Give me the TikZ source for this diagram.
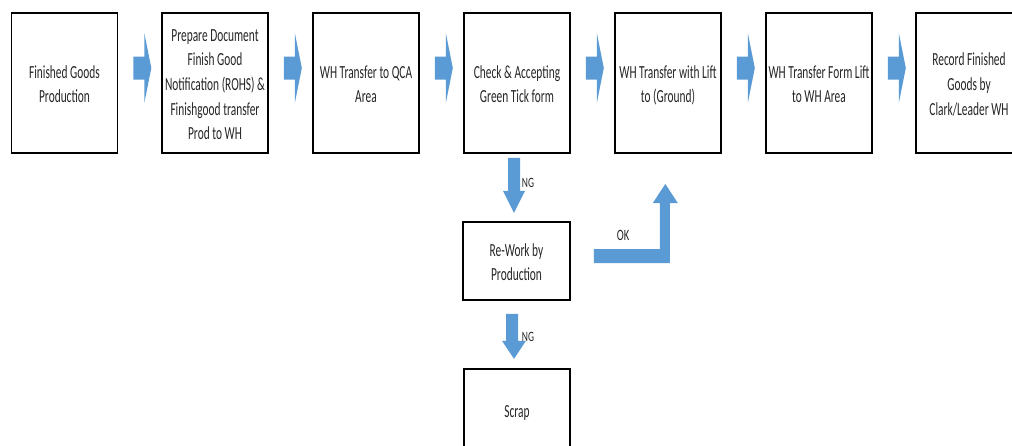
\documentclass[tikz,border=0pt]{standalone}
\usepackage{fontspec}
\usepackage{graphicx}
\setmainfont{Carlito}
\usetikzlibrary{calc}
\definecolor{arrblue}{HTML}{5B9BD5}
\definecolor{txt}{HTML}{262626}
\newsavebox\vtbox
\newcommand\vt[1]{\sbox\vtbox{\scalebox{1}[1.62]{\begin{tabular}{@{}c@{}}#1\end{tabular}}}\raisebox{-2.5pt}[\ht\vtbox][\dp\vtbox]{\usebox\vtbox}}
\tikzset{
  flowbox/.style={draw=black, line width=1.6pt, fill=white, inner sep=0pt,
    minimum width=106pt, minimum height=140pt, text=txt,
    font=\fontsize{11.4}{15.2}\selectfont},
  blockarrow/.style={fill=arrblue, draw=none},
  lbl/.style={text=txt, inner sep=0pt}
}
\begin{document}
\begin{tikzpicture}[x=1pt,y=-1pt]
\useasboundingbox (0,0) rectangle (1012,445);
% top row
\node[flowbox] (b1) at (64.5,83) {\vt{Finished Goods\\Production}};
\node[flowbox] (b2) at (215,83) {\vt{Prepare Document\\Finish Good\\Notification (ROHS) \&\\Finishgood transfer\\Prod to WH}};
\node[flowbox] (b3) at (366,83) {\vt{WH Transfer to QCA\\Area}};
\node[flowbox] (b4) at (517,83) {\vt{Check \& Accepting\\Green Tick form}};
\node[flowbox] (b5) at (668,83) {\vt{WH Transfer with Lift\\to (Ground)}};
\node[flowbox] (b6) at (819,83) {\vt{WH Transfer Form Lift\\to WH Area}};
\node[flowbox] (b7) at (969,83) {\vt{Record Finished\\Goods by\\Clark/Leader WH}};
% lower boxes
\node[flowbox, minimum width=107pt, minimum height=78pt] (rw) at (516.5,261) {\vt{Re-Work by\\Production}};
\node[flowbox, minimum height=82pt] (sc) at (517,410) {\vt{Scrap}};
% horizontal block arrows
\foreach \a/\b in {b1/b2,b2/b3,b3/b4,b4/b5,b5/b6,b6/b7}{
  \fill[blockarrow, shift={(\a.east)}] (15,-26.5) -- (26,-26.5) -- (26,-50) -- (33,-15)
     -- (26,20) -- (26,-3.5) -- (15,-3.5) -- cycle;
}
% NG arrow 1 : b4 -> rw
\fill[blockarrow, shift={(b4.south)}] (-9,4) -- (3,4) -- (3,37) -- (8,37) -- (-3,59)
   -- (-14,37) -- (-9,37) -- cycle;
\node[lbl, font=\fontsize{9.5}{11}\selectfont] (ng1) at (528,183) {\scalebox{1}[1.5]{NG}};
% NG arrow 2 : rw -> sc
\fill[blockarrow, shift={(rw.south)}] (-10.5,13) -- (1.5,13) -- (1.5,40) -- (9.5,40) -- (-2.5,58)
   -- (-14.5,40) -- (-10.5,40) -- cycle;
\node[lbl, font=\fontsize{9.5}{11}\selectfont] (ng2) at (528,337) {\scalebox{1}[1.5]{NG}};
% OK bent arrow : rw -> b5
\fill[blockarrow, shift={(rw.east)}] (23,-12) -- (89,-12) -- (89,-58) -- (82,-58) -- (94.5,-77)
   -- (107,-58) -- (99,-58) -- (99,2) -- (23,2) -- cycle;
\node[lbl, font=\fontsize{10.5}{12}\selectfont] (ok) at (623,235) {\scalebox{1}[1.5]{OK}};
\end{tikzpicture}
\end{document}
